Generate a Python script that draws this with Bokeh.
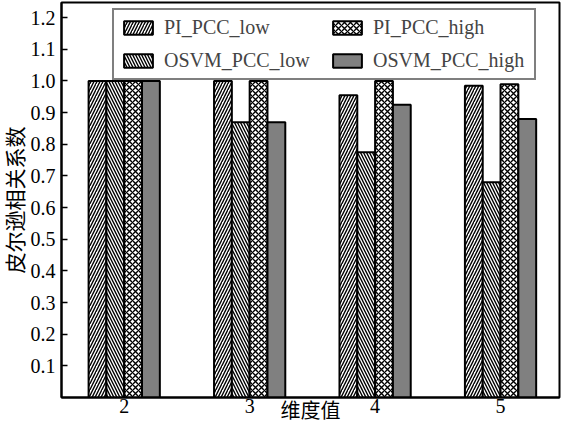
from bokeh.plotting import figure
from bokeh.models import ColumnDataSource, FixedTicker, Range1d, Legend, LegendItem
from bokeh.transform import dodge
from bokeh.embed import file_html
from bokeh.resources import INLINE

dims = [2, 3, 4, 5]
pi_pcc_low = [1.0, 1.0, 0.955, 0.985]
osvm_pcc_low = [1.0, 0.87, 0.775, 0.68]
pi_pcc_high = [1.0, 1.0, 1.0, 0.99]
osvm_pcc_high = [1.0, 0.87, 0.925, 0.88]
series_names = ["PI_PCC_low", "OSVM_PCC_low", "PI_PCC_high", "OSVM_PCC_high"]
y_ticks = [0.1, 0.2, 0.3, 0.4, 0.5, 0.6, 0.7, 0.8, 0.9, 1.0, 1.1, 1.2]
x_title = "维度值"
y_title = "皮尔逊相关系数"

src = ColumnDataSource(dict(x=dims, a=pi_pcc_low, b=osvm_pcc_low, c=pi_pcc_high, d=osvm_pcc_high))

xr = Range1d(1.5, 5.47)
p = figure(width=562, height=427, output_backend="svg", toolbar_location=None,
           x_range=xr, y_range=Range1d(0, 1.248),
           min_border_left=56, min_border_right=3, min_border_top=2, min_border_bottom=30)
p.background_fill_color = "white"
p.border_fill_color = "white"
p.grid.visible = False
p.outline_line_color = "black"
p.outline_line_width = 2

bw = 0.142
styles = [
    dict(fill_color="white", hatch_pattern="right_diagonal_line", hatch_color="black"),
    dict(fill_color="white", hatch_pattern="left_diagonal_line", hatch_color="black"),
    dict(fill_color="white", hatch_pattern="diagonal_cross", hatch_color="black"),
    dict(fill_color="#808080"),
]
offsets = [-0.213, -0.071, 0.071, 0.213]
renderers = []
for col, off, st in zip(["a", "b", "c", "d"], offsets, styles):
    extra = {}
    if "hatch_pattern" in st:
        extra = dict(hatch_scale=6, hatch_weight=1.4, hatch_alpha=1.0)
    r = p.vbar(x=dodge("x", off, range=p.x_range), top=col, width=bw, bottom=0, source=src,
               line_color="black", line_width=2, **st, **extra)
    renderers.append(r)

font = "Liberation Serif"
cjk_font = "'Liberation Serif', 'Noto Sans CJK SC'"
p.yaxis.ticker = FixedTicker(ticks=y_ticks)
p.xaxis.ticker = FixedTicker(ticks=dims)
p.yaxis.major_label_overrides = {t: f"{t:.1f}" for t in y_ticks}
for ax in (p.xaxis, p.yaxis):
    ax.axis_line_color = "black"
    ax.axis_line_width = 2
    ax.major_tick_line_color = "black"
    ax.major_tick_line_width = 1.5
    ax.major_tick_in = 6
    ax.major_tick_out = 0
    ax.minor_tick_line_color = None
    ax.major_label_text_font = font
    ax.major_label_text_font_size = "20px"
    ax.major_label_text_color = "black"
    ax.axis_label_text_font = cjk_font
    ax.axis_label_text_font_style = "normal"
    ax.axis_label_text_color = "black"
p.yaxis.axis_label_text_font_size = "21px"
p.xaxis.axis_label_text_font_size = "20px"
p.yaxis.major_label_standoff = 6
p.xaxis.major_label_standoff = 1
p.yaxis.axis_label_standoff = 0
p.xaxis.axis_label_standoff = -16
p.yaxis.axis_label = y_title
p.xaxis.axis_label = x_title

items = [LegendItem(label=series_names[i], renderers=[renderers[i]]) for i in range(4)]
legend = Legend(items=items, ncols=2, location=(51, 317),
                label_text_font=font, label_text_font_size="20px",
                glyph_width=36, glyph_height=17, spacing=10, padding=6,
                label_standoff=8, label_width=155,
                border_line_color="black", border_line_width=2,
                background_fill_alpha=1.0, margin=0)
p.add_layout(legend, "center")

open("out.html", "w").write(file_html(p, INLINE))
